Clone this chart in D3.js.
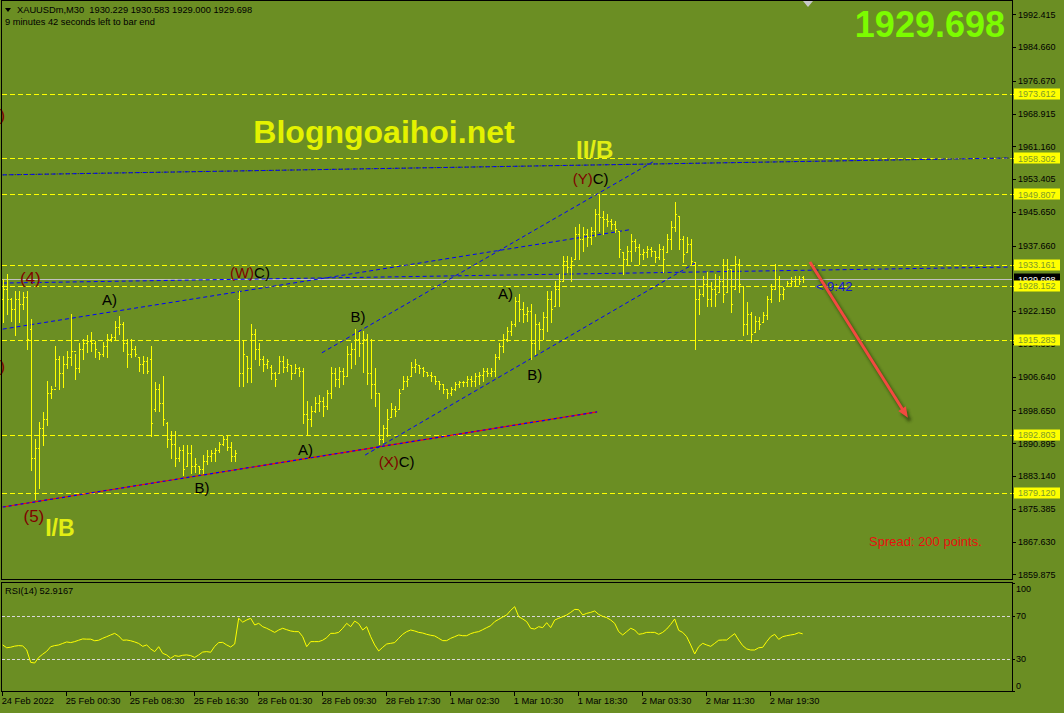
<!DOCTYPE html>
<html>
<head>
<meta charset="utf-8">
<script src="https://cdn.jsdelivr.net/npm/d3@7"></script>
<style>
body { margin: 0; background: #6b8e23; }
svg { display: block; font-family: "Liberation Sans", Arial, sans-serif; }
</style>
</head>
<body>
<svg width="1064" height="713"></svg>
<script>
/* XAUUSDm M30 bars */
var barOpen = [
 1925.1,1927.5,1925.1,1922.7,1925.1,1923.9,1925.6,1918.0,1887.3,1889.7,
 1894.4,1896.7,1902.7,1903.8,1910.9,1907.4,1909.7,1911.4,1912.8,1908.6,
 1913.3,1914.5,1915.2,1914.5,1912.4,1911.9,1914.0,1915.6,1916.1,1918.5,
 1919.2,1914.5,1912.1,1913.3,1911.4,1909.7,1910.4,1910.9,1899.1,1903.8,
 1900.3,1895.6,1892.0,1890.8,1887.3,1889.2,1885.6,1888.5,1885.4,1885.6,
 1884.9,1886.8,1887.8,1888.5,1889.2,1890.6,1892.0,1890.1,1887.8,1925.1,
 1907.4,1911.6,1908.6,1916.8,1913.3,1910.9,1909.7,1909.0,1907.4,1907.4,
 1910.4,1909.0,1909.3,1907.4,1908.6,1908.1,1897.9,1896.7,1898.6,1900.3,
 1901.0,1899.6,1902.7,1907.4,1906.2,1908.1,1906.7,1912.1,1913.3,1915.6,
 1914.5,1915.6,1907.4,1905.0,1902.7,1892.0,1894.4,1897.2,1899.1,1899.1,
 1903.8,1905.7,1906.7,1909.0,1909.3,1908.6,1907.8,1907.1,1906.7,1905.7,
 1904.8,1903.8,1902.7,1903.8,1904.8,1905.3,1905.5,1906.2,1905.7,1906.7,
 1907.1,1908.1,1907.6,1908.1,1911.4,1913.8,1915.6,1917.5,1919.2,1924.6,
 1922.7,1921.5,1922.3,1914.5,1919.2,1918.0,1920.8,1925.1,1923.4,1927.5,
 1929.3,1934.1,1932.7,1934.5,1940.4,1939.3,1940.4,1939.7,1941.2,1945.2,
 1944.5,1944.0,1943.5,1942.8,1941.2,1936.2,1934.5,1936.4,1938.8,1937.4,
 1935.7,1936.2,1936.9,1936.4,1935.0,1936.9,1936.2,1939.3,1942.1,1944.7,
 1939.3,1936.2,1938.1,1933.8,1925.1,1926.3,1928.6,1925.1,1927.5,1926.7,
 1929.3,1926.7,1932.2,1927.5,1933.4,1928.2,1919.2,1921.5,1917.3,1919.9,
 1919.7,1921.3,1925.1,1927.5,1929.8,1926.3,1928.2,1928.9,1929.3,1929.8,
 1930.229
];
var barHigh = [
 1929.8,1931.0,1925.3,1927.0,1927.0,1926.7,1927.0,1920.4,1892.0,1896.0,
 1898.4,1905.7,1904.5,1913.8,1911.6,1911.6,1912.8,1921.5,1912.1,1914.5,
 1915.6,1916.4,1917.3,1915.2,1912.6,1914.9,1916.8,1916.8,1919.9,1921.1,
 1919.7,1915.6,1915.6,1914.0,1911.4,1911.6,1911.4,1913.8,1905.5,1905.0,
 1906.9,1896.0,1893.7,1893.7,1890.1,1890.4,1890.4,1890.4,1887.3,1885.6,
 1888.0,1889.2,1889.2,1889.7,1891.3,1892.7,1892.7,1891.3,1889.2,1927.0,
 1915.2,1911.6,1919.2,1918.0,1914.5,1911.6,1910.9,1909.3,1907.8,1911.6,
 1911.6,1910.9,1909.3,1909.7,1909.0,1908.6,1900.8,1899.6,1901.9,1902.2,
 1901.9,1903.4,1909.0,1908.6,1909.0,1908.6,1913.8,1914.5,1918.0,1917.3,
 1917.5,1916.8,1915.6,1908.6,1902.7,1895.1,1899.1,1900.3,1899.8,1903.8,
 1906.7,1906.9,1910.2,1910.9,1909.3,1909.0,1907.8,1907.8,1906.9,1905.7,
 1905.0,1903.8,1904.3,1905.5,1905.7,1905.7,1906.7,1906.7,1907.4,1907.8,
 1908.6,1908.6,1908.6,1912.1,1914.5,1916.8,1918.5,1919.9,1925.6,1926.3,
 1924.4,1923.2,1923.9,1921.5,1919.7,1922.0,1927.0,1927.0,1929.3,1931.0,
 1935.3,1935.3,1935.0,1942.1,1942.8,1942.1,1941.6,1942.1,1946.4,1949.9,
 1945.9,1945.2,1944.0,1943.5,1941.2,1936.2,1937.6,1940.4,1939.3,1938.1,
 1936.9,1937.6,1937.4,1936.4,1938.1,1937.6,1940.4,1943.5,1948.0,1944.7,
 1940.0,1939.7,1939.3,1933.8,1927.5,1930.5,1931.5,1929.1,1931.0,1930.5,
 1934.5,1934.5,1932.2,1935.3,1934.5,1928.2,1924.4,1922.0,1921.1,1920.8,
 1922.0,1925.8,1928.6,1933.4,1930.5,1927.9,1929.3,1930.3,1930.5,1930.5,
 1930.583
];
var barLow = [
 1919.7,1921.5,1919.9,1916.4,1919.7,1922.7,1913.3,1884.5,1877.8,1880.2,
 1890.4,1895.1,1901.5,1904.5,1903.8,1904.3,1908.6,1909.3,1906.2,1907.8,
 1910.9,1912.6,1912.8,1911.4,1910.9,1911.6,1911.4,1915.2,1915.6,1916.8,
 1912.8,1909.0,1911.4,1911.6,1908.1,1907.4,1907.4,1892.7,1898.6,1898.6,
 1895.1,1890.1,1887.3,1885.4,1886.6,1883.3,1885.6,1883.8,1884.2,1883.8,
 1883.8,1886.1,1886.8,1886.6,1888.9,1890.4,1889.2,1886.8,1886.8,1904.5,
 1904.5,1905.5,1905.5,1910.9,1909.3,1908.1,1908.6,1906.2,1904.5,1907.4,
 1907.8,1908.1,1906.2,1907.4,1906.7,1895.6,1893.2,1894.9,1898.4,1898.6,
 1897.4,1899.1,1901.5,1904.5,1904.3,1905.0,1906.7,1908.6,1909.7,1911.6,
 1907.8,1905.0,1901.5,1899.8,1890.8,1891.3,1892.7,1897.2,1897.4,1899.1,
 1903.8,1904.5,1906.7,1907.8,1907.4,1906.9,1906.7,1905.7,1905.0,1903.8,
 1902.7,1901.5,1902.2,1903.4,1904.3,1904.5,1904.5,1904.5,1904.5,1905.0,
 1905.7,1906.7,1906.7,1906.9,1910.9,1912.6,1915.2,1916.4,1918.7,1919.9,
 1919.7,1919.9,1910.9,1912.1,1913.3,1915.6,1917.5,1919.7,1923.4,1923.4,
 1929.3,1931.5,1929.3,1934.5,1934.5,1936.4,1937.6,1938.1,1940.0,1941.2,
 1940.4,1942.3,1941.6,1940.9,1935.0,1931.0,1933.4,1934.1,1936.4,1933.4,
 1934.5,1935.0,1935.3,1933.8,1934.5,1931.5,1936.2,1936.9,1941.2,1936.9,
 1933.8,1936.2,1933.4,1913.3,1921.5,1925.8,1923.4,1923.4,1923.4,1926.7,
 1924.4,1926.7,1922.0,1927.5,1926.7,1916.4,1916.8,1914.9,1917.3,1918.0,
 1919.7,1920.4,1924.4,1927.5,1924.6,1925.1,1928.2,1928.2,1928.2,1928.6,
 1929.000
];
var barClose = [
 1927.5,1925.1,1922.7,1925.1,1923.9,1925.6,1915.6,1887.3,1889.7,1894.4,
 1896.7,1902.7,1903.8,1910.9,1907.4,1909.7,1911.4,1912.8,1908.6,1913.3,
 1914.5,1915.2,1914.5,1913.3,1911.9,1914.0,1915.6,1916.1,1918.5,1919.2,
 1914.5,1912.1,1913.3,1912.1,1909.7,1910.4,1908.1,1895.6,1903.8,1900.3,
 1896.7,1892.0,1890.8,1887.3,1889.2,1884.9,1888.5,1885.4,1886.1,1884.9,
 1886.8,1887.8,1888.5,1889.2,1890.6,1892.0,1890.1,1887.8,1888.5,1907.4,
 1912.1,1908.6,1916.8,1913.3,1910.9,1909.7,1910.4,1907.4,1906.2,1910.4,
 1909.0,1909.7,1907.4,1908.6,1908.1,1897.9,1896.7,1898.6,1900.3,1901.0,
 1899.6,1902.7,1907.4,1906.2,1908.1,1906.7,1912.1,1913.3,1915.6,1914.5,
 1915.6,1907.4,1905.0,1902.7,1892.0,1894.4,1896.7,1899.1,1898.6,1902.7,
 1905.7,1906.2,1909.0,1909.7,1908.6,1908.1,1907.1,1906.7,1905.7,1904.8,
 1903.8,1902.7,1903.8,1904.8,1905.3,1905.5,1906.2,1905.7,1906.7,1907.1,
 1908.1,1907.6,1908.1,1911.4,1913.8,1915.6,1917.5,1919.2,1924.6,1922.7,
 1921.5,1922.3,1914.5,1919.2,1918.0,1920.8,1925.1,1922.7,1927.5,1929.3,
 1934.1,1932.7,1934.1,1940.4,1939.3,1940.4,1939.7,1941.2,1945.2,1944.5,
 1944.0,1943.5,1942.8,1941.6,1936.9,1934.5,1936.4,1938.8,1937.4,1935.7,
 1936.2,1936.9,1936.4,1935.0,1936.9,1934.5,1939.3,1942.1,1945.2,1939.3,
 1935.7,1938.1,1934.1,1925.1,1926.3,1928.6,1925.1,1927.5,1926.3,1929.3,
 1926.3,1932.2,1923.9,1933.4,1928.6,1919.2,1921.5,1916.8,1919.9,1919.2,
 1921.3,1925.1,1927.5,1929.8,1926.3,1927.5,1928.9,1929.3,1929.8,1929.3,
 1929.698
];

/* RSI(14), one value per bar */
var rsiValues = [
 42.6,40,40.5,41.5,42,41.7,38,26.4,25.8,31,
 34,36.7,41,42,42.6,44,45.4,44.8,45.7,47,
 48.2,48,48,46.5,47,48.8,50.3,51.9,53.4,51,
 47,47.2,46.5,45.4,44,41.3,42.6,38.9,36.4,41,
 34.8,33.3,30.2,32.7,32,33,33.3,32.7,31,33.3,
 36,36.4,35.8,41.3,44.8,45,42.6,40.7,43.5,67.4,
 63.8,65.8,67.4,61.2,62.7,59.6,58.1,56.2,54.3,56.5,
 58.1,56.8,55.6,55,55,50.3,41,45.7,45.7,45.7,
 47,49.4,53.4,53.4,54.3,58.1,62.7,59.6,64.8,62.4,
 56.5,59.6,50.3,42.6,37,40.4,43.5,44.1,44.8,48.8,
 52.5,55,56.5,55.6,54.3,53.7,52.5,51.6,51,48.8,
 46.6,46.6,48.8,50.3,51.9,51.2,51.2,53.1,54.3,55,
 56.8,58.7,60.5,64.3,66.4,68.6,70.5,74.8,78.2,68.9,
 66.8,64.3,58.1,57.4,59.6,58.7,63.3,58.7,65.8,67.4,
 68.9,70.5,72.9,75.7,75.4,70.5,72,72.9,74.2,71,
 69.2,68,65.8,62.7,55,51.9,55,58.1,56.5,52.5,
 53.1,54.3,54.3,54.3,52.5,54.3,57.4,61.7,66.8,56.2,
 54.3,50.3,42.6,34.2,41,44.1,42.6,41.3,44.1,47,
 47.2,47.2,50.3,53.1,47.2,42,38.9,37.9,37.9,40,
 40.4,45.7,50.3,52.5,47.8,50.3,51.2,51.9,52.5,54,
 52.9167
];

var priceTicks = [1992.415,1984.660,1976.670,1968.915,1961.160,1953.405,1945.650,1937.660,
  1922.150,1914.395,1906.640,1898.650,1890.895,1883.140,1875.385,1867.630,1859.875];
var levelPrices = [1973.612,1958.302,1949.807,1933.161,1928.152,1915.283,1892.803,1879.120];
var lastPrice = 1929.698;
var rsiTicks = [100,70,30,0];
var rsiLevels = [70,30];
var timeTickBars = [0,16,32,48,64,80,96,112,128,144,160,176,192];
var timeLabels = ["24 Feb 2022","25 Feb 00:30","25 Feb 08:30","25 Feb 16:30","28 Feb 01:30","28 Feb 09:30",
  "28 Feb 17:30","1 Mar 02:30","1 Mar 10:30","1 Mar 18:30","2 Mar 03:30","2 Mar 11:30","2 Mar 19:30"];

// trend lines, [bar, price] end points
var blueLines = [
  [[0,1954.4],[252,1958.4]],
  [[0,1928.8],[252,1932.6]],
  [[0,1917.9],[156.6,1941.4]],
  [[79.8,1912.3],[162.6,1957.5]],
  [[90.6,1888.1],[173.6,1933.8]]
];
var supportLine = [[0,1875.8],[148.6,1898.3]];
var arrowLine = [[201.8,1933.8],[226.3,1896.9]];

var waveLabels = [
  {bar:26.7, price:1923.6, degree:"", text:"A)"},
  {bar:61.8, price:1930.0, degree:"(W)", text:"C)"},
  {bar:49.8, price:1879.1, degree:"", text:"B)"},
  {bar:88.8, price:1919.6, degree:"", text:"B)"},
  {bar:75.7, price:1888.1, degree:"", text:"A)"},
  {bar:98.5, price:1885.3, degree:"(X)", text:"C)"},
  {bar:125.7, price:1925.0, degree:"", text:"A)"},
  {bar:133, price:1905.8, degree:"", text:"B)"},
  {bar:147, price:1952.2, degree:"(Y)", text:"C)"}
];
var degreeLabels = [
  {bar:6.9, price:1928.5, text:"(4)"},
  {bar:7.8, price:1872.3, text:"(5)"}
];
var edgeMarks = [
  {bar:0.6, price:1967.2},
  {bar:0.6, price:1907.7}
];
var cycleLabels = [
  {bar:14.3, price:1868.9, text:"I/B"},
  {bar:148, price:1958.4, text:"II/B"}
];
var timerLabel = {bar:203.3, price:1926.9, text:"< 9:42"};

var svg = d3.select("svg");
var bg = "#6b8e23";

var x = d3.scaleLinear().domain([0, 200]).range([2.7, 802.7]);
var y = d3.scaleLinear().domain([1879.12, 1973.612]).range([493, 93.7]);
var yR = d3.scaleLinear().domain([0, 100]).range([690.75, 583.25]);

svg.append("rect").attr("width", 1064).attr("height", 713).attr("fill", bg);

var defs = svg.append("defs");
defs.append("clipPath").attr("id", "clipMain")
  .append("rect").attr("x", 2).attr("y", 2).attr("width", 1010).attr("height", 577);
defs.append("clipPath").attr("id", "clipRsi")
  .append("rect").attr("x", 2).attr("y", 583).attr("width", 1010).attr("height", 108);
defs.append("filter").attr("id", "shadow").attr("x", "-20%").attr("y", "-20%").attr("width", "140%").attr("height", "140%")
  .append("feGaussianBlur").attr("stdDeviation", 1.6);

// horizontal levels
var lv = svg.append("g").attr("shape-rendering", "crispEdges");
lv.selectAll("line").data(levelPrices).join("line")
  .attr("x1", 2).attr("x2", 1014)
  .attr("y1", function(d) { return Math.round(y(d)) + 0.5; })
  .attr("y2", function(d) { return Math.round(y(d)) + 0.5; })
  .attr("stroke", "#ffff00").attr("stroke-dasharray", "5,3");

// bid line
svg.append("line").attr("x1", 2).attr("x2", 1012)
  .attr("y1", Math.round(y(lastPrice)) + 0.5).attr("y2", Math.round(y(lastPrice)) + 0.5)
  .attr("stroke", "#c0c0c0").attr("shape-rendering", "crispEdges");

// trend lines
var tl = svg.append("g").attr("clip-path", "url(#clipMain)");
tl.append("line")
  .attr("x1", x(supportLine[0][0])).attr("y1", y(supportLine[0][1]))
  .attr("x2", x(supportLine[1][0])).attr("y2", y(supportLine[1][1]))
  .attr("stroke", "#ff0000").attr("stroke-width", 1.2);
tl.append("line")
  .attr("x1", x(supportLine[0][0])).attr("y1", y(supportLine[0][1]))
  .attr("x2", x(supportLine[1][0])).attr("y2", y(supportLine[1][1]))
  .attr("stroke", "#0000ff").attr("stroke-width", 1.2).attr("stroke-dasharray", "3,3");
// faint dark dotted line under the top channel line
tl.append("line")
  .attr("x1", x(blueLines[0][0][0])).attr("y1", y(blueLines[0][0][1]))
  .attr("x2", x(blueLines[0][1][0])).attr("y2", y(blueLines[0][1][1]))
  .attr("stroke", "#203000").attr("stroke-dasharray", "1,2");
tl.selectAll("line.blue").data(blueLines).join("line").attr("class", "blue")
  .attr("x1", function(d) { return x(d[0][0]); }).attr("y1", function(d) { return y(d[0][1]); })
  .attr("x2", function(d) { return x(d[1][0]); }).attr("y2", function(d) { return y(d[1][1]); })
  .attr("stroke", "#0000ff").attr("stroke-width", 1).attr("stroke-dasharray", "4,3");

// OHLC bars
var bars = svg.append("g").attr("clip-path", "url(#clipMain)")
  .attr("stroke", "#ffff00").attr("fill", "none").attr("shape-rendering", "crispEdges");
bars.selectAll("path").data(d3.range(barOpen.length)).join("path")
  .attr("d", function(i) {
    var xi = Math.round(x(i)) + 0.5;
    var yh = Math.round(y(barHigh[i])), yl = Math.round(y(barLow[i])) + 1;
    var yo = Math.round(y(barOpen[i])) + 0.5, yc = Math.round(y(barClose[i])) + 0.5;
    return "M" + xi + "," + yh + "V" + yl + "M" + (xi - 2) + "," + yo + "H" + xi + "M" + xi + "," + yc + "H" + (xi + 1);
  });

// wave labels
var lab = svg.append("g").attr("text-anchor", "middle");
var wl = lab.selectAll("text.wave").data(waveLabels).join("text").attr("class", "wave")
  .attr("x", function(d) { return x(d.bar); }).attr("y", function(d) { return y(d.price); })
  .attr("font-size", 15);
wl.append("tspan").attr("fill", "#800000").text(function(d) { return d.degree; });
wl.append("tspan").attr("fill", "#000").text(function(d) { return d.text; });

lab.selectAll("text.deg").data(degreeLabels).join("text").attr("class", "deg")
  .attr("x", function(d) { return x(d.bar); }).attr("y", function(d) { return y(d.price); })
  .attr("font-size", 17).attr("fill", "#800000").text(function(d) { return d.text; });

lab.selectAll("text.edge").data(edgeMarks).join("text").attr("class", "edge")
  .attr("x", function(d) { return x(d.bar); }).attr("y", function(d) { return y(d.price); })
  .attr("text-anchor", "end").attr("font-size", 17).attr("fill", "#800000").text(")");

lab.selectAll("text.cyc").data(cycleLabels).join("text").attr("class", "cyc")
  .attr("x", function(d) { return x(d.bar); }).attr("y", function(d) { return y(d.price); })
  .attr("font-size", function(d, i) { return i === 0 ? 23 : 24; }).attr("font-weight", "bold")
  .attr("fill", "#e2ee14").text(function(d) { return d.text; });

svg.append("text").attr("x", 384).attr("y", 143).attr("text-anchor", "middle")
  .attr("font-size", 32).attr("font-weight", "bold").attr("fill", "#e4f200")
  .text("Blogngoaihoi.net");

svg.append("text").attr("x", x(timerLabel.bar)).attr("y", y(timerLabel.price))
  .attr("font-size", 13).attr("fill", "#1414d8").text(timerLabel.text);

// red arrow with soft shadow
var ax1 = x(arrowLine[0][0]), ay1 = y(arrowLine[0][1]), ax2 = x(arrowLine[1][0]), ay2 = y(arrowLine[1][1]);
var ang = Math.atan2(ay2 - ay1, ax2 - ax1);
function head(px, py) {
  var l = 11, w = 4.5;
  var bx = px - l * Math.cos(ang), by = py - l * Math.sin(ang);
  return "M" + px + "," + py + "L" + (bx - w * Math.sin(ang)) + "," + (by + w * Math.cos(ang)) +
    "L" + (bx + w * Math.sin(ang)) + "," + (by - w * Math.cos(ang)) + "Z";
}
var sh = svg.append("g").attr("filter", "url(#shadow)").attr("opacity", 0.6);
sh.append("line").attr("x1", ax1 + 2).attr("y1", ay1 + 3).attr("x2", ax2 + 2).attr("y2", ay2 + 3)
  .attr("stroke", "#1e2a08").attr("stroke-width", 4);
sh.append("path").attr("d", head(ax2 + 2, ay2 + 3)).attr("fill", "#1e2a08");
svg.append("line").attr("x1", ax1).attr("y1", ay1).attr("x2", ax2 - 6 * Math.cos(ang)).attr("y2", ay2 - 6 * Math.sin(ang))
  .attr("stroke", "#f24a40").attr("stroke-width", 3);
svg.append("path").attr("d", head(ax2, ay2)).attr("fill", "#f24a40");

svg.append("text").attr("x", 869).attr("y", 546).attr("font-size", 13).attr("fill", "#e81010")
  .text("Spread: 200 points.");

svg.append("text").attr("x", 1005).attr("y", 37).attr("text-anchor", "end")
  .attr("font-size", 36).attr("font-weight", "bold").attr("fill", "#7cfc00")
  .text(d3.format(".3f")(lastPrice));

// header
svg.append("path").attr("d", "M5,8H11L8,12Z").attr("fill", "#000");
svg.append("text").attr("x", 17).attr("y", 12.5).attr("font-size", 9.3).attr("fill", "#000")
  .attr("xml:space", "preserve")
  .text("XAUUSDm,M30  1930.229 1930.583 1929.000 1929.698");
svg.append("text").attr("x", 5).attr("y", 25).attr("font-size", 9.3).attr("fill", "#000")
  .text("9 minutes 42 seconds left to bar end");
svg.append("path").attr("d", "M803,1H813L808,7Z").attr("fill", "#c8c8c8");

// RSI panel
var rs = svg.append("g");
rs.selectAll("line").data(rsiLevels).join("line")
  .attr("x1", 2).attr("x2", 1012)
  .attr("y1", function(d) { return Math.round(yR(d)) + 0.5; })
  .attr("y2", function(d) { return Math.round(yR(d)) + 0.5; })
  .attr("stroke", "#d8d8d8").attr("stroke-dasharray", "3,2").attr("shape-rendering", "crispEdges");
var rsiLine = d3.line().x(function(d, i) { return x(i); }).y(function(d) { return yR(d); });
rs.append("path").attr("clip-path", "url(#clipRsi)").attr("d", rsiLine(rsiValues))
  .attr("fill", "none").attr("stroke", "#ffff00").attr("stroke-width", 1);
rs.append("text").attr("x", 5).attr("y", 594).attr("font-size", 9.3).attr("fill", "#000")
  .text("RSI(14) " + d3.format(".4f")(rsiValues[rsiValues.length - 1]));

// frames
var fr = svg.append("g").attr("fill", "none").attr("stroke", "#000").attr("shape-rendering", "crispEdges");
fr.append("rect").attr("x", 1.5).attr("y", 0.5).attr("width", 1010.5).attr("height", 578.5);
fr.append("rect").attr("x", 1.5).attr("y", 582.5).attr("width", 1010.5).attr("height", 109);

// price axis
var pa = svg.append("g").attr("font-size", 9).attr("fill", "#000");
pa.selectAll("line").data(priceTicks).join("line")
  .attr("x1", 1012).attr("x2", 1016)
  .attr("y1", function(d) { return Math.round(y(d)) + 0.5; })
  .attr("y2", function(d) { return Math.round(y(d)) + 0.5; })
  .attr("stroke", "#000").attr("shape-rendering", "crispEdges");
pa.selectAll("text").data(priceTicks).join("text")
  .attr("x", 1018).attr("y", function(d) { return y(d) + 3.3; })
  .text(function(d) { return d3.format(".3f")(d); });

// last price box then level boxes
svg.append("rect").attr("x", 1014).attr("y", Math.round(y(lastPrice)) - 5.5).attr("width", 46).attr("height", 11).attr("fill", "#000");
svg.append("text").attr("x", 1018).attr("y", y(lastPrice) + 3.3).attr("font-size", 9).attr("fill", "#fff")
  .text(d3.format(".3f")(lastPrice));
var lb = svg.append("g").selectAll("g").data(levelPrices).join("g");
lb.append("rect").attr("x", 1014).attr("y", function(d) { return Math.round(y(d)) - 5.5; })
  .attr("width", 46).attr("height", 11).attr("fill", "#ffff00");
lb.append("text").attr("x", 1018).attr("y", function(d) { return y(d) + 3.3; })
  .attr("font-size", 9).attr("fill", "#7d9a2a").text(function(d) { return d3.format(".3f")(d); });

// RSI axis
var ra = svg.append("g").attr("font-size", 9).attr("fill", "#000");
ra.selectAll("line").data(rsiTicks).join("line")
  .attr("x1", 1012).attr("x2", 1015)
  .attr("y1", function(d) { return Math.round(yR(d)) + 0.5; })
  .attr("y2", function(d) { return Math.round(yR(d)) + 0.5; })
  .attr("stroke", "#000").attr("shape-rendering", "crispEdges");
ra.selectAll("text").data(rsiTicks).join("text")
  .attr("x", 1016)
  .attr("y", function(d) { return yR(d) + (d === 100 ? 9 : d === 0 ? -2 : 3.5); })
  .text(function(d) { return d; });

// time axis
var ta = svg.append("g").attr("font-size", 9.3).attr("fill", "#000");
ta.selectAll("line").data(timeTickBars).join("line")
  .attr("x1", function(d) { return Math.round(x(d)) - 0.5; })
  .attr("x2", function(d) { return Math.round(x(d)) - 0.5; })
  .attr("y1", 691.5).attr("y2", 696)
  .attr("stroke", "#000").attr("shape-rendering", "crispEdges");
ta.selectAll("text").data(timeTickBars).join("text")
  .attr("x", function(d) { return x(d) - 1; }).attr("y", 704)
  .text(function(d, i) { return timeLabels[i]; });
</script>
</body>
</html>
